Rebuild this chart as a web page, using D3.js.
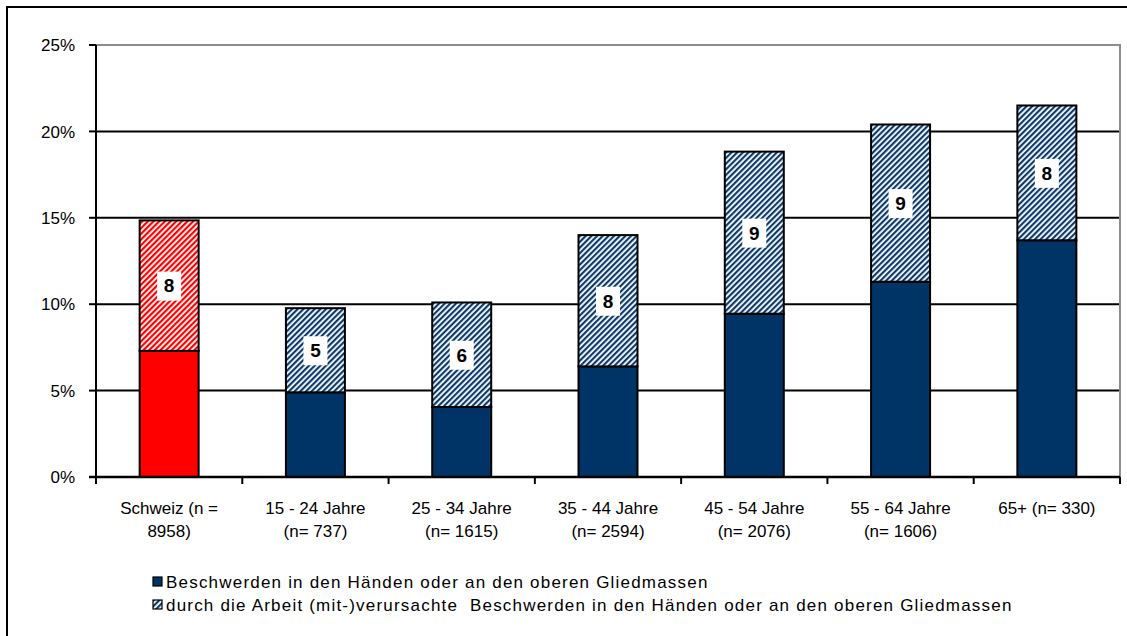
<!DOCTYPE html>
<html>
<head>
<meta charset="utf-8">
<script src="https://cdn.jsdelivr.net/npm/d3@7"></script>
<style>
  body { margin: 0; background: #fff; }
  svg text { font-family: "Liberation Sans", Arial, sans-serif; }
</style>
</head>
<body>
<div id="chart"></div>
<script>
var width = 1127,
    height = 636;

// data
var categories = ["Schweiz (n =|8958)", "15 - 24 Jahre|(n= 737)", "25 - 34 Jahre|(n= 1615)",
                  "35 - 44 Jahre|(n= 2594)", "45 - 54 Jahre|(n= 2076)", "55 - 64 Jahre|(n= 1606)",
                  "65+ (n= 330)"];
var baseValues  = [7.3, 4.9, 4.05, 6.4, 9.45, 11.3, 13.7];
var totalValues = [14.85, 9.77, 10.1, 14.0, 18.83, 20.4, 21.5];
var labels      = ["8", "5", "6", "8", "9", "9", "8"];
var yTicks      = [0, 5, 10, 15, 20, 25];
var legendNames = ["Beschwerden in den Händen oder an den oberen Gliedmassen",
                   "durch die Arbeit (mit-)verursachte  Beschwerden in den Händen oder an den oberen Gliedmassen"];

var plot = { left: 96, top: 45, right: 1120, bottom: 477 };

var svg = d3.select("#chart").append("svg")
    .attr("width", width)
    .attr("height", height);

// hatch patterns
var defs = svg.append("defs");
function hatch(id, color) {
    var p = defs.append("pattern")
        .attr("id", id)
        .attr("width", 4)
        .attr("height", 4)
        .attr("patternUnits", "userSpaceOnUse")
        .attr("patternTransform", "rotate(45)");
    p.append("rect").attr("width", 4).attr("height", 4).attr("fill", "#fff");
    p.append("rect").attr("width", 2.2).attr("height", 4).attr("fill", color);
}
hatch("hatchBlue", "#0d3b6b");
hatch("hatchRed", "#ff0000");

// outer frame (cut off at right and bottom)
svg.append("rect")
    .attr("x", 7).attr("y", 7)
    .attr("width", width + 20).attr("height", height + 20)
    .attr("fill", "none")
    .attr("stroke", "#000")
    .attr("stroke-width", 2);

var x = d3.scaleBand()
    .domain(categories)
    .range([plot.left, plot.right])
    .paddingInner(0)
    .paddingOuter(0);

var y = d3.scaleLinear()
    .domain([0, 25])
    .range([plot.bottom, plot.top]);

// gridlines
svg.append("g").selectAll("line")
    .data(yTicks.filter(function(d) { return d > 0 && d < 25; }))
    .enter().append("line")
    .attr("x1", plot.left).attr("x2", plot.right)
    .attr("y1", function(d) { return y(d); })
    .attr("y2", function(d) { return y(d); })
    .attr("stroke", "#000")
    .attr("stroke-width", 2);

// plot area border top & right (gray)
svg.append("path")
    .attr("d", "M" + plot.left + "," + plot.top + "H" + plot.right + "V" + plot.bottom)
    .attr("fill", "none")
    .attr("stroke", "#8c8c8c")
    .attr("stroke-width", 2);

var barW = 59;

var bars = svg.append("g").selectAll("g.bar")
    .data(categories)
    .enter().append("g")
    .attr("class", "bar");

bars.append("rect")
    .attr("x", function(d) { return x(d) + x.bandwidth() / 2 - barW / 2; })
    .attr("width", barW)
    .attr("y", function(d, i) { return y(baseValues[i]); })
    .attr("height", function(d, i) { return y(0) - y(baseValues[i]); })
    .attr("fill", function(d, i) { return i === 0 ? "#ff0000" : "#003366"; })
    .attr("stroke", "#000")
    .attr("stroke-width", 2);

bars.append("rect")
    .attr("x", function(d) { return x(d) + x.bandwidth() / 2 - barW / 2; })
    .attr("width", barW)
    .attr("y", function(d, i) { return y(totalValues[i]); })
    .attr("height", function(d, i) { return y(baseValues[i]) - y(totalValues[i]); })
    .attr("fill", function(d, i) { return i === 0 ? "url(#hatchRed)" : "url(#hatchBlue)"; })
    .attr("stroke", "#000")
    .attr("stroke-width", 2);

// value labels in white boxes
bars.append("rect")
    .attr("x", function(d) { return x(d) + x.bandwidth() / 2 - 12; })
    .attr("width", 24)
    .attr("y", function(d, i) { return y((baseValues[i] + totalValues[i]) / 2) - 14; })
    .attr("height", 29)
    .attr("fill", "#fff");

bars.append("text")
    .attr("x", function(d) { return x(d) + x.bandwidth() / 2; })
    .attr("y", function(d, i) { return y((baseValues[i] + totalValues[i]) / 2); })
    .attr("dy", "0.36em")
    .attr("text-anchor", "middle")
    .style("font-size", "19px")
    .style("font-weight", "bold")
    .text(function(d, i) { return labels[i]; });

// y axis
svg.append("line")
    .attr("x1", plot.left).attr("x2", plot.left)
    .attr("y1", plot.top).attr("y2", plot.bottom + 7)
    .attr("stroke", "#000").attr("stroke-width", 2);

var yt = svg.append("g").selectAll("g")
    .data(yTicks)
    .enter().append("g");
yt.append("line")
    .attr("x1", plot.left - 7).attr("x2", plot.left)
    .attr("y1", function(d) { return y(d); })
    .attr("y2", function(d) { return y(d); })
    .attr("stroke", "#000").attr("stroke-width", 2);
yt.append("text")
    .attr("x", 75)
    .attr("y", function(d) { return y(d); })
    .attr("dy", "0.36em")
    .attr("text-anchor", "end")
    .style("font-size", "17px")
    .text(function(d) { return d + "%"; });

// x axis
svg.append("line")
    .attr("x1", plot.left - 7).attr("x2", plot.right)
    .attr("y1", plot.bottom).attr("y2", plot.bottom)
    .attr("stroke", "#000").attr("stroke-width", 2.5);

svg.append("g").selectAll("line")
    .data(categories.slice(1).concat(["end"]))
    .enter().append("line")
    .attr("x1", function(d, i) { return plot.left + (i + 1) * x.bandwidth(); })
    .attr("x2", function(d, i) { return plot.left + (i + 1) * x.bandwidth(); })
    .attr("y1", plot.bottom).attr("y2", plot.bottom + 7)
    .attr("stroke", "#000").attr("stroke-width", 2);

var xl = svg.append("g").selectAll("text")
    .data(categories)
    .enter().append("text")
    .attr("x", function(d) { return x(d) + x.bandwidth() / 2; })
    .attr("y", 514)
    .attr("text-anchor", "middle")
    .style("font-size", "17px");
xl.selectAll("tspan")
    .data(function(d) {
        var parts = d.split("|");
        var cx = x(d) + x.bandwidth() / 2;
        return parts.map(function(p) { return { t: p, cx: cx }; });
    })
    .enter().append("tspan")
    .attr("x", function(d) { return d.cx; })
    .attr("dy", function(d, i) { return i === 0 ? 0 : 23; })
    .text(function(d) { return d.t; });

// legend
var lg = svg.append("g").selectAll("g")
    .data(legendNames)
    .enter().append("g")
    .attr("transform", function(d, i) { return "translate(153," + (582 + i * 23) + ")"; });
lg.append("rect")
    .attr("x", 0).attr("y", -5)
    .attr("width", 9).attr("height", 9)
    .attr("fill", function(d, i) { return i === 0 ? "#003366" : "url(#hatchBlue)"; })
    .attr("stroke", "#000")
    .attr("stroke-width", 1.2);
lg.append("text")
    .attr("x", 13)
    .attr("y", 0)
    .attr("dy", "0.36em")
    .style("font-size", "17px")
    .style("letter-spacing", "1.2px")
    .style("white-space", "pre")
    .text(function(d) { return d; });
</script>
</body>
</html>
